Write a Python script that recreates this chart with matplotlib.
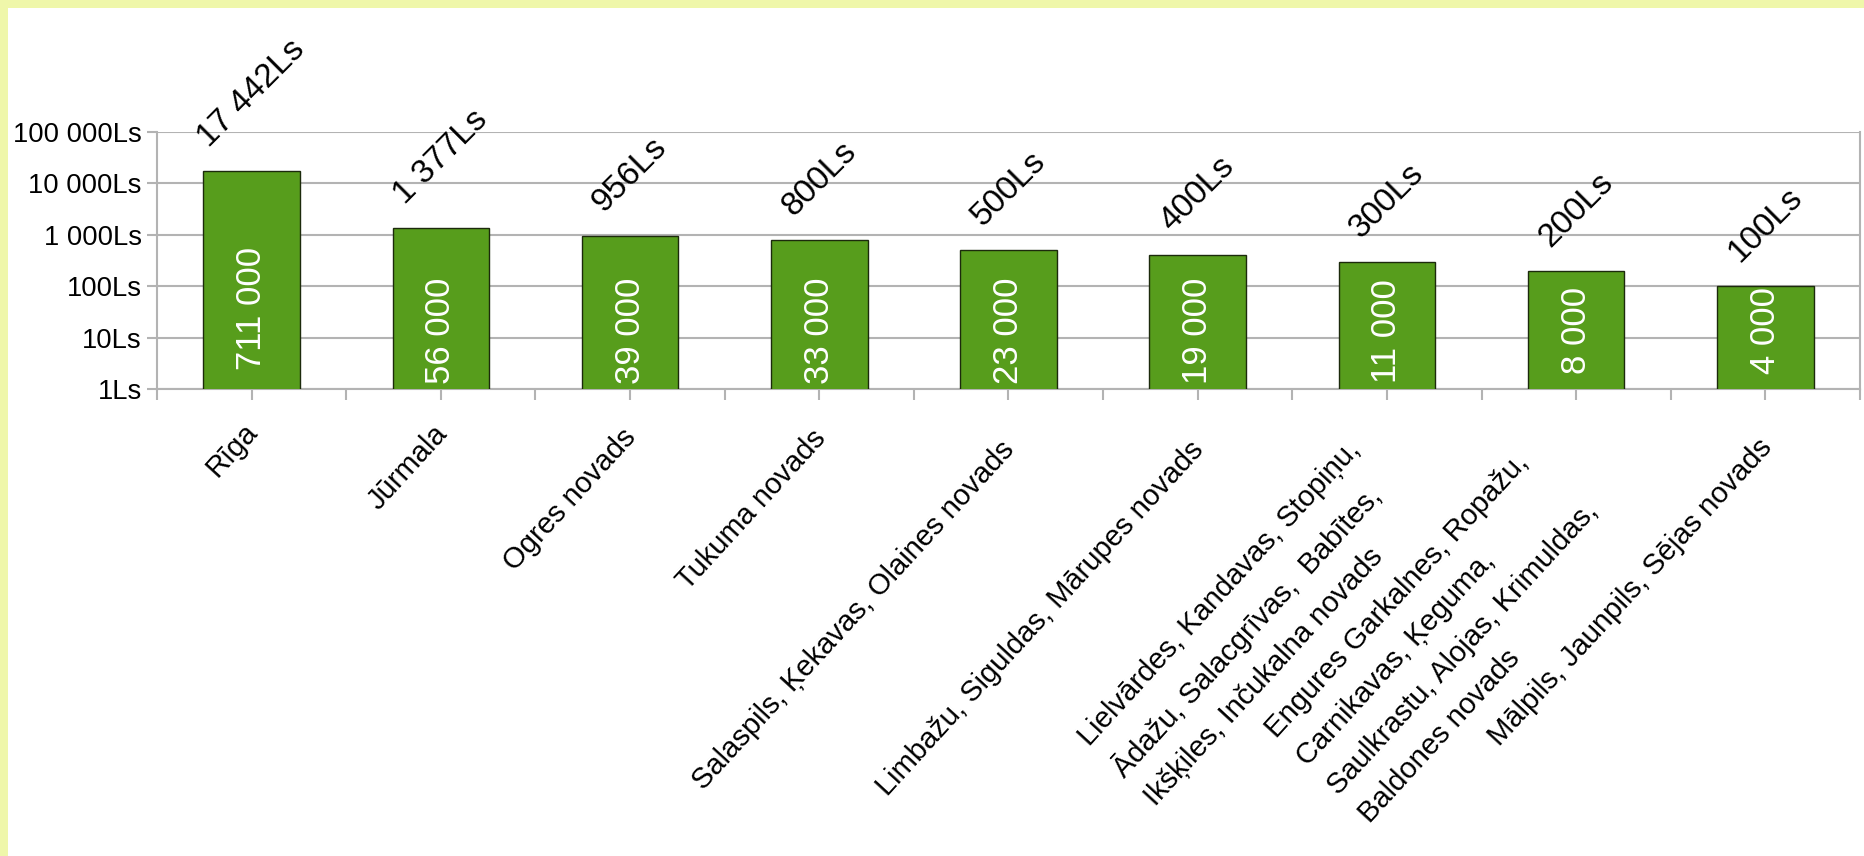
import matplotlib
matplotlib.use('Agg')
import numpy as np
from matplotlib import pyplot as plt
from matplotlib.patches import Rectangle
from matplotlib.font_manager import FontProperties

FAMILY = ['Liberation Sans', 'DejaVu Sans']
plt.rcParams['font.family'] = FAMILY

categories = ['Rīga', 'Jūrmala', 'Ogres novads', 'Tukuma novads',
              'Salaspils, Ķekavas, Olaines novads',
              'Limbažu, Siguldas, Mārupes novads',
              'Lielvārdes, Kandavas, Stopiņu,\nĀdažu, Salacgrīvas,  Babītes,\nIkšķiles, Inčukalna novads',
              'Engures Garkalnes, Ropažu,\nCarnikavas, Ķeguma,\nSaulkrastu, Alojas, Krimuldas,\nBaldones novads',
              'Mālpils, Jaunpils, Sējas novads']
amounts = [17442, 1377, 956, 800, 500, 400, 300, 200, 100]
population = [711000, 56000, 39000, 33000, 23000, 19000, 11000, 8000, 4000]
yticks = [1, 10, 100, 1000, 10000, 100000]

W, H = 1864, 856
BAR = '#579d1c'
GRID = '#b3b3b3'
BORDER = '#eff7aa'
PX = 72 / 100  # points per pixel
CAT_SIZE = 21
CAT_ANGLE = 47.5

def fmt(v):
    return '{:,}'.format(v).replace(',', ' ')

fig = plt.figure(figsize=(W / 100, H / 100), dpi=100)
fig.patch.set_facecolor(BORDER)
fig.add_artist(Rectangle((8 / W, 0), 1, 1 - 8 / H, transform=fig.transFigure,
                         facecolor='white', edgecolor='none', zorder=-1))

ax = fig.add_axes([157 / W, 1 - 389 / H, (1860 - 157) / W, (389 - 132) / H])
x = np.arange(len(categories))
ax.bar(x, amounts, width=0.51, color=BAR, edgecolor='#1c2a0c', linewidth=1, zorder=3)
ax.set_yscale('log')
ax.set_ylim(1, 100000)
ax.set_xlim(-0.5, len(categories) - 0.5)

ax.set_yticks(yticks)
ax.set_yticklabels([fmt(v) + 'Ls' for v in yticks], fontsize=19.7)
ax.yaxis.set_minor_locator(matplotlib.ticker.NullLocator())
ax.grid(axis='y', color=GRID, linewidth=1.5, zorder=0)
for s in ax.spines.values():
    s.set_color(GRID)
    s.set_linewidth(1.5)
ax.spines['top'].set_visible(False)

ax.set_xticks(x)
ax.set_xticklabels([''] * len(categories))
ax.set_xticks(np.arange(len(categories) + 1) - 0.5, minor=True)
ax.tick_params(axis='x', which='both', length=8, width=1.5, color=GRID)
ax.tick_params(axis='y', length=7, width=1.5, color=GRID, pad=4)

fig.canvas.draw()
r = fig.canvas.get_renderer()
fp = FontProperties(family=FAMILY, size=CAT_SIZE)

# category names, rotated; the block's right-middle point sits below the tick,
# longer names and extra lines push it further down
for i, name in enumerate(categories):
    lines = name.split('\n')
    n = len(lines)
    width = max(r.get_text_width_height_descent(l, fp, ismath=False)[0] for l in lines)
    dy = 38 + 0.045 * (width - 62) + 17.5 * (n - 1) - (2 if n > 1 else 0)
    ax.annotate(name, xy=(i, 0), xycoords=ax.get_xaxis_transform(),
                xytext=(1.5 * PX, -dy * PX), textcoords='offset points',
                rotation=CAT_ANGLE, rotation_mode='anchor', ha='right', va='center',
                multialignment='left', linespacing=1.65, fontproperties=fp)

# values above the bars
for i, v in enumerate(amounts):
    ax.annotate(fmt(v) + 'Ls', xy=(i, v), xytext=(0, 13), textcoords='offset points',
                rotation=45, ha='center', va='bottom', fontsize=24)

# population inside the bars
inner = []
for i, p in enumerate(population):
    t = ax.text(i, 0.226, fmt(p), transform=ax.get_xaxis_transform(), rotation=90,
                ha='center', va='center', color='white', fontsize=25, zorder=4)
    inner.append(t)

fig.canvas.draw()
for t in inner:
    bb = t.get_window_extent(r)
    if bb.y0 < ax.bbox.y0:
        shift = (ax.bbox.y0 + 19 - bb.y0) / ax.bbox.height
        xx, yy = t.get_position()
        t.set_position((xx, yy + shift))

fig.savefig('out.png', dpi=100, facecolor=fig.get_facecolor())
